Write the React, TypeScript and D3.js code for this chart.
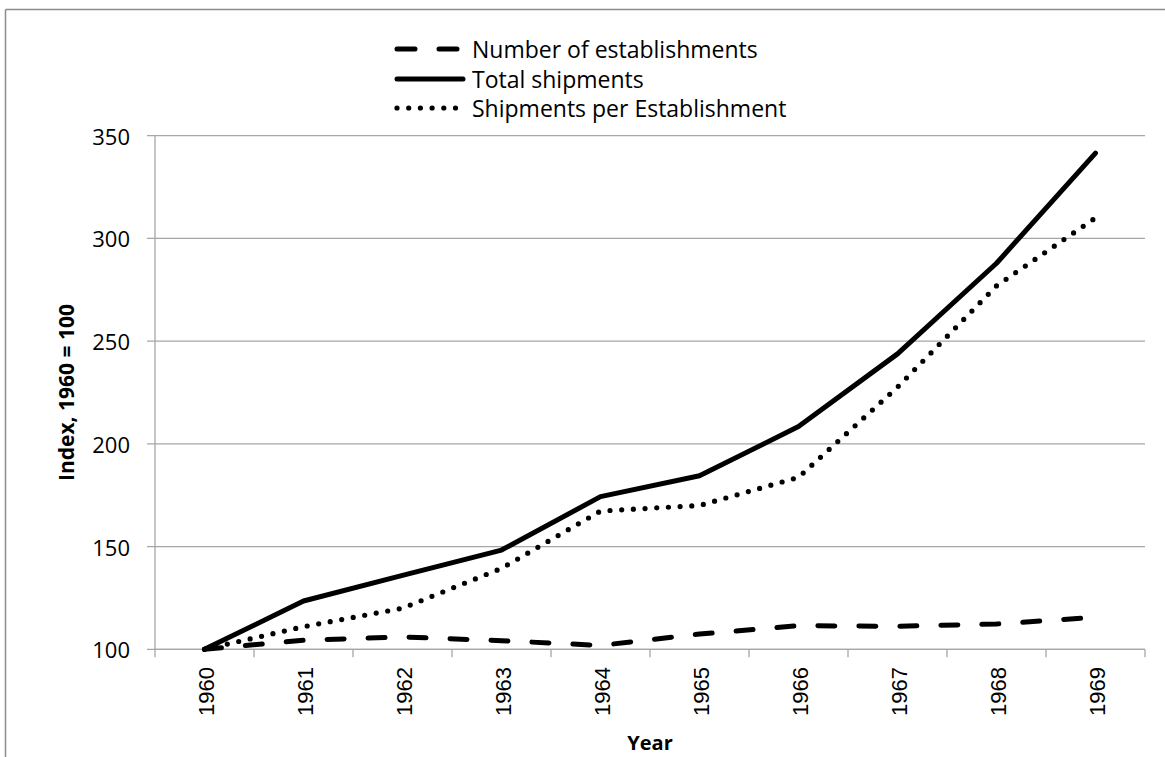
import React from "react";
import * as d3 from "d3";

const years = ["1960", "1961", "1962", "1963", "1964", "1965", "1966", "1967", "1968", "1969"];
const establishments = [100, 104.4, 106, 104.2, 101.9, 107.4, 111.5, 111.2, 112.3, 115.6];
const totalShipments = [100, 123.5, 136, 148.3, 174.3, 184.5, 208.4, 243.8, 287.9, 341.5];
const perEstablishment = [100, 111, 120, 139.4, 167.3, 170, 183.7, 227.6, 276.9, 310];
const yTicks = [100, 150, 200, 250, 300, 350];

const seriesNames = ["Number of establishments", "Total shipments", "Shipments per Establishment"];

const W = 1165;
const H = 757;
const left = 155;
const right = 1145;
const top = 135.7;
const bottom = 649.3;

const GRID = "#a6a6a6";
const FONT = "'Open Sans', 'Noto Sans', sans-serif";

export default function App() {
  const x = d3.scaleBand<string>().domain(years).range([left, right]);
  const y = d3.scaleLinear().domain([100, 350]).range([bottom, top]);
  const line = d3
    .line<number>()
    .x((_, i) => (x(years[i]) as number) + x.bandwidth() / 2)
    .y((d) => y(d));

  const styles = [
    { dash: "17 24", width: 5 },
    { dash: undefined, width: 5 },
    { dash: "0 11.7", width: 5.2 },
  ];
  const data = [establishments, totalShipments, perEstablishment];

  const legendY = [49, 79, 108];

  return (
    <svg
      width={W}
      height={H}
      style={{ position: "absolute", left: 0, top: 0, background: "#fff" }}
    >
      <rect x={0} y={0} width={W} height={H} fill="#fff" />
      {/* frame */}
      <line x1={5.5} y1={9.5} x2={W} y2={9.5} stroke="#8c8c8c" strokeWidth={1.5} />
      <line x1={5.5} y1={9.5} x2={5.5} y2={H} stroke="#8c8c8c" strokeWidth={1.5} />

      {/* gridlines */}
      {yTicks.map((t) => (
        <g key={t}>
          <line x1={147} x2={right} y1={y(t)} y2={y(t)} stroke={GRID} strokeWidth={1.3} />
          <text
            x={130}
            y={y(t)}
            textAnchor="end"
            dominantBaseline="central"
            fontFamily={FONT}
            fontSize={22}
            fill="#000"
          >
            {t}
          </text>
        </g>
      ))}
      {/* y axis */}
      <line x1={left} x2={left} y1={top} y2={bottom} stroke={GRID} strokeWidth={1.3} />
      {/* x axis */}
      <line x1={left} x2={right} y1={bottom} y2={bottom} stroke={GRID} strokeWidth={1.3} />
      {years.map((yr) => (
        <line
          key={"t" + yr}
          x1={x(yr) as number}
          x2={x(yr) as number}
          y1={bottom}
          y2={bottom + 8}
          stroke={GRID}
          strokeWidth={1.3}
        />
      ))}
      <line x1={right} x2={right} y1={bottom} y2={bottom + 8} stroke={GRID} strokeWidth={1.3} />
      {years.map((yr) => {
        const cx = (x(yr) as number) + x.bandwidth() / 2 + 2;
        const ty = 667;
        return (
          <text
            key={"l" + yr}
            transform={`translate(${cx},${ty}) rotate(-90)`}
            textAnchor="end"
            dominantBaseline="central"
            fontFamily="'Liberation Sans', Arial, sans-serif"
            fontSize={22}
            fill="#000"
          >
            {yr}
          </text>
        );
      })}

      {/* axis titles */}
      <text
        transform={`translate(66,392.5) rotate(-90)`}
        textAnchor="middle"
        dominantBaseline="central"
        fontFamily={FONT}
        fontWeight="bold"
        fontSize={21}
        fill="#000"
      >
        Index, 1960 = 100
      </text>
      <text
        x={650}
        y={750}
        textAnchor="middle"
        fontFamily={FONT}
        fontWeight="bold"
        fontSize={20}
        fill="#000"
      >
        Year
      </text>

      {/* series */}
      {data.map((d, i) => (
        <path
          key={seriesNames[i]}
          d={line(d) || ""}
          fill="none"
          stroke="#000"
          strokeWidth={styles[i].width}
          strokeDasharray={styles[i].dash}
          strokeLinecap="round"
          strokeLinejoin="round"
        />
      ))}

      {/* legend */}
      {seriesNames.map((n, i) => (
        <g key={"lg" + n}>
          <line
            x1={397}
            x2={i === 2 ? 462 : 463}
            y1={legendY[i]}
            y2={legendY[i]}
            stroke="#000"
            strokeWidth={styles[i].width}
            strokeDasharray={i === 0 ? "18 24" : styles[i].dash}
            strokeLinecap="round"
          />
          <text
            x={472}
            y={legendY[i]}
            dominantBaseline="central"
            fontFamily={FONT}
            fontSize={23}
            fill="#000"
          >
            {n}
          </text>
        </g>
      ))}
    </svg>
  );
}
